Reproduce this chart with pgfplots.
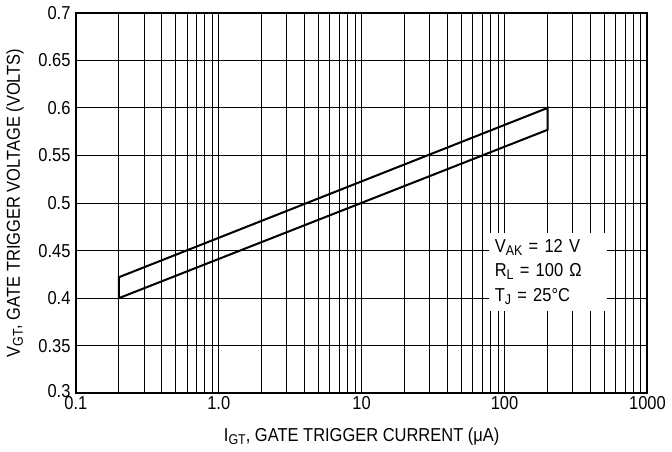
\documentclass[border=0pt]{standalone}
\usepackage{fontspec}
\setmainfont{Liberation Sans}[FakeStretch=0.88]
\usepackage{pgfplots}
\pgfplotsset{compat=1.18}
\newcommand\sub[1]{\raisebox{-0.3ex}{\fontsize{14}{14}\selectfont #1}}
\begin{document}
\fontsize{18.5}{22}\selectfont
\begin{tikzpicture}
\begin{axis}[
  xmode=log, log basis x=10,
  xmin=0.1, xmax=1000, ymin=0.3, ymax=0.7,
  scale only axis, width=565pt, height=376pt,
  xtick={0.1,1,10,100,1000},
  xticklabels={0.1,1.0,10,100,1000},
  minor xtick={0.2,0.3,0.4,0.5,0.6,0.7,0.8,0.9,
               2,3,4,5,6,7,8,9,
               20,30,40,50,60,70,80,90,
               200,300,400,500,600,700,800,900},
  ytick={0.3,0.35,0.4,0.45,0.5,0.55,0.6,0.65,0.7},
  yticklabels={\raisebox{5pt}{0.3},0.35,0.4,0.45,0.5,0.55,0.6,0.65,0.7},
  grid=both,
  major grid style={black, line width=1pt},
  minor grid style={black, line width=1pt},
  axis line style={line width=2pt},
  tick style={draw=none},
  xticklabel style={yshift=3pt},
  yticklabel style={xshift=1pt},
  xlabel={I\sub{GT}, GATE TRIGGER CURRENT (μA)},
  ylabel={V\sub{GT}, GATE TRIGGER VOLTAGE (VOLTS)},
  xlabel style={yshift=-5pt},
  ylabel style={yshift=2pt},
]
\addplot[line width=2pt, mark=none, line join=miter] coordinates {
  (0.2,0.400) (0.2,0.422) (200,0.600) (200,0.577) (0.2,0.400) (0.2,0.422)
};
\node[fill=white, anchor=north west, align=left, text width=105pt,
      minimum height=78pt, inner xsep=6pt, font=\fontsize{18.5}{24}\selectfont]
  at (rel axis cs:0.722,0.423)
  {V\sub{AK} = 12 V\\R\sub{L} = 100 Ω\\T\sub{J} = 25°C};
\end{axis}
\end{tikzpicture}
\end{document}
